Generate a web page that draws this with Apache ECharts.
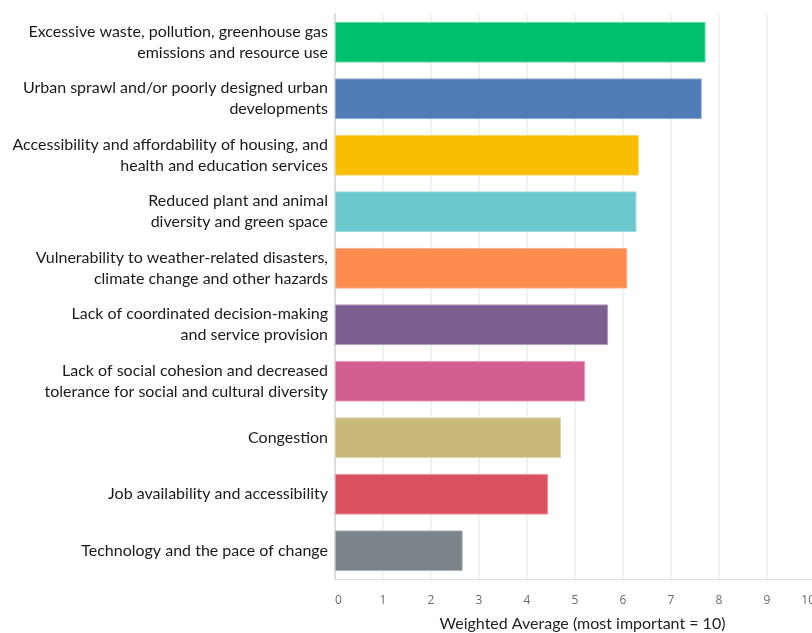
<!DOCTYPE html>
<html>
<head>
<meta charset="utf-8">
<script src="https://cdn.jsdelivr.net/npm/echarts@6/dist/echarts.min.js"></script>
<style>
  html, body { margin: 0; padding: 0; background: #ffffff; overflow: hidden; }
  #chart { width: 812px; height: 633px; }
</style>
</head>
<body>
<div id="chart"></div>
<script>
// Challenges, listed top to bottom
const categories = [
  'Excessive waste, pollution, greenhouse gas\nemissions and resource use',
  'Urban sprawl and/or poorly designed urban\ndevelopments',
  'Accessibility and affordability of housing, and\nhealth and education services',
  'Reduced plant and animal\ndiversity and green space',
  'Vulnerability to weather-related disasters,\nclimate change and other hazards',
  'Lack of coordinated decision-making\nand service provision',
  'Lack of social cohesion and decreased\ntolerance for social and cultural diversity',
  'Congestion',
  'Job availability and accessibility',
  'Technology and the pace of change'
];

// Weighted average score for each challenge
const weightedAverages = [7.72, 7.64, 6.33, 6.28, 6.09, 5.69, 5.21, 4.71, 4.44, 2.66];

const barColors = [
  '#00bf6f', '#507cb6', '#f9be00', '#6bc8cd', '#ff8b4f',
  '#7d5e90', '#d25f90', '#c8b97a', '#dc5162', '#7b848a'
];
const barBorders = [
  '#66d9a9', '#8fa9cf', '#fbd466', '#a1dbdf', '#ffb48d',
  '#b09ebc', '#e39cbb', '#ddd3ab', '#ea939e', '#b0b5b9'
];

const xTicks = [0, 10];
const axisTitle = 'Weighted Average (most important = 10)';

const chart = echarts.init(document.getElementById('chart'), null, { renderer: 'canvas' });

chart.setOption({
  animation: false,
  backgroundColor: '#ffffff',
  grid: {
    left: 335, width: 480, top: 14, bottom: 54,
    containLabel: false,
    outerBoundsMode: 'none'
  },
  xAxis: {
    type: 'value',
    min: xTicks[0],
    max: xTicks[1],
    interval: 1,
    name: axisTitle,
    nameLocation: 'middle',
    nameGap: 37,
    nameTextStyle: { color: '#222222', fontSize: 16, fontFamily: 'Lato', padding: [0, 0, 0, 15] },
    axisLine: { show: true, lineStyle: { color: '#dddddd', width: 1 } },
    axisTick: { show: false },
    axisLabel: {
      color: '#6b6b6b', fontSize: 12, fontFamily: 'Open Sans', margin: 16,
      alignMinLabel: 'left', alignMaxLabel: 'right'
    },
    splitLine: { show: true, lineStyle: { color: '#eeeeee', width: 1.5 } }
  },
  yAxis: {
    type: 'category',
    inverse: true,
    data: categories,
    axisLine: { show: true, lineStyle: { color: '#d6d6d6', width: 1.5 } },
    axisTick: { show: false },
    axisLabel: {
      color: '#1a1a1a',
      fontSize: 16,
      fontFamily: 'Lato',
      lineHeight: 21,
      margin: 7,
      align: 'right',
      padding: [3, 0, 0, 0]
    }
  },
  series: [{
    type: 'bar',
    data: weightedAverages.map((v, i) => ({
      value: v,
      itemStyle: { color: barColors[i], borderColor: barBorders[i], borderWidth: 1 }
    })),
    barCategoryGap: '28%'
  }]
});
</script>
</body>
</html>
